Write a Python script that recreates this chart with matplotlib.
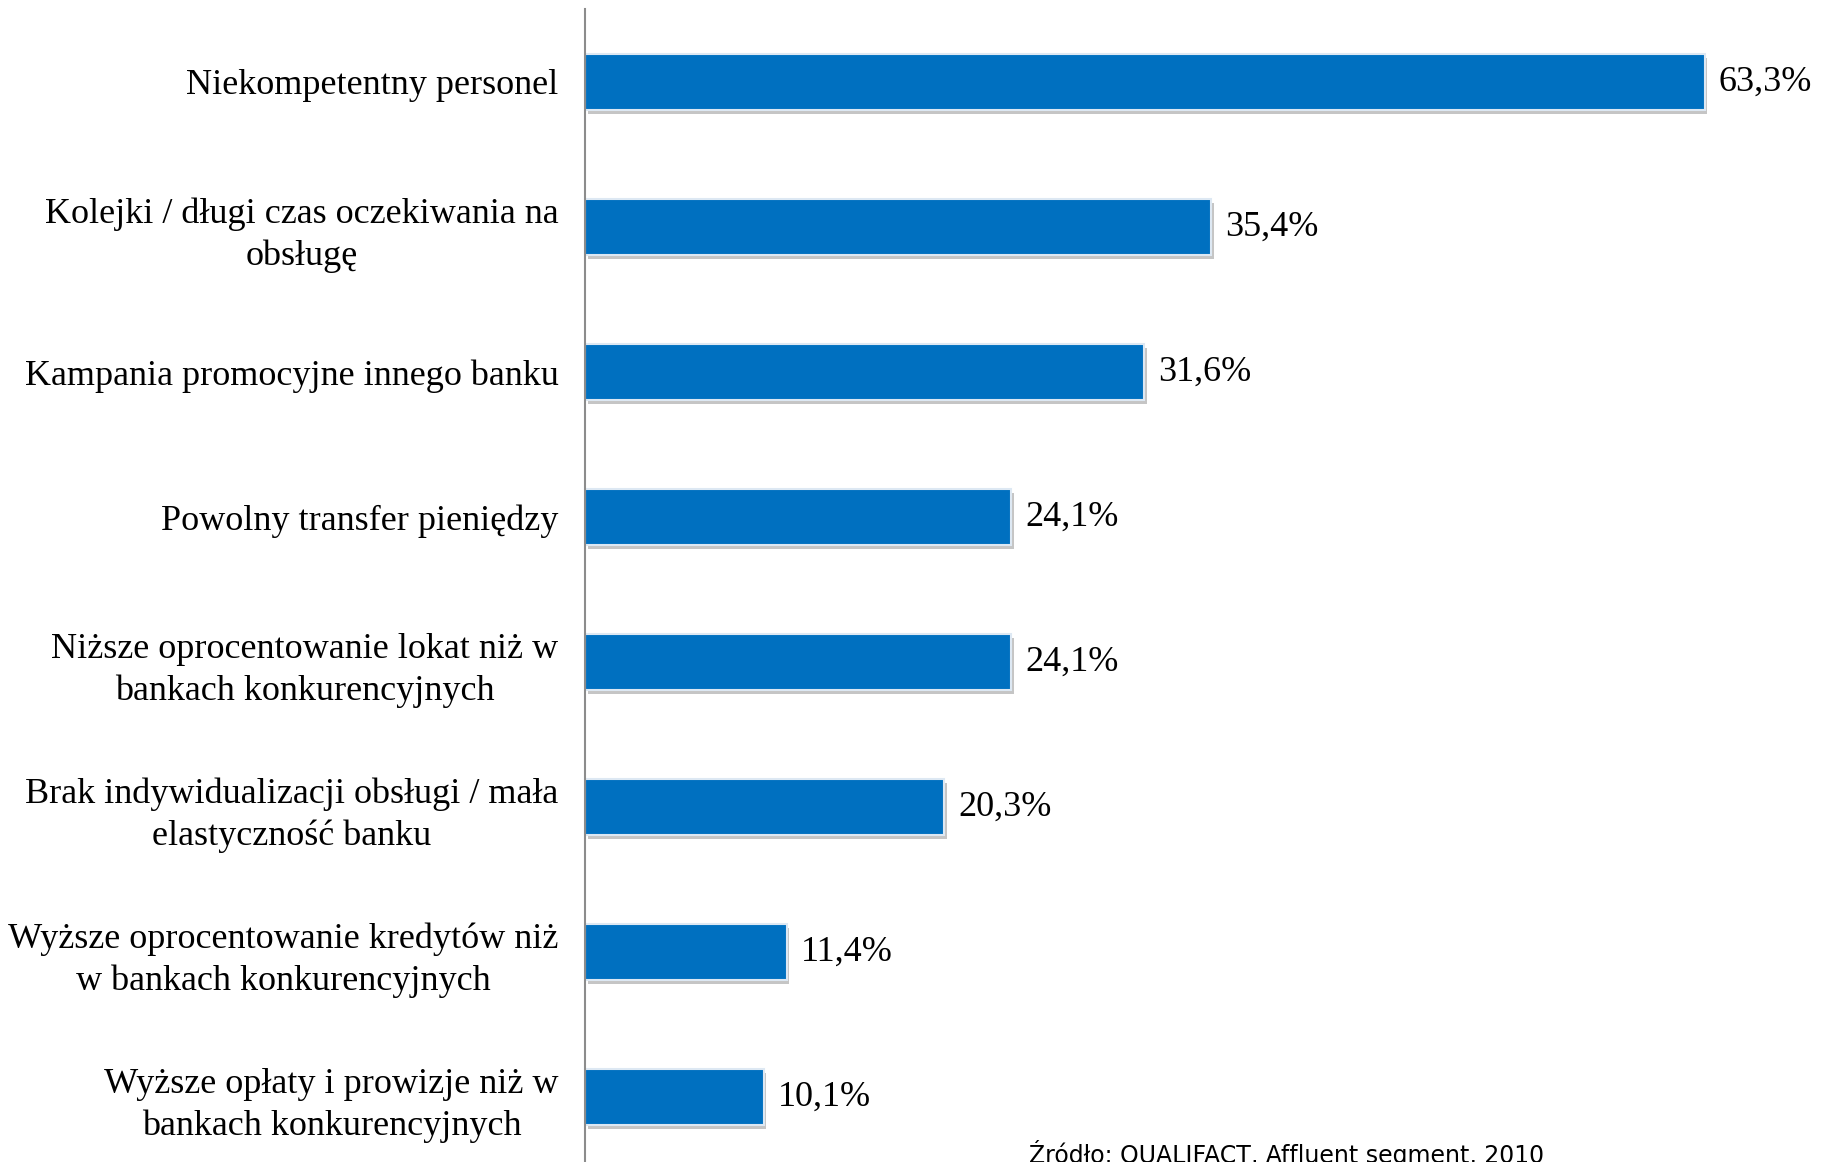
import numpy as np
import matplotlib
matplotlib.use("Agg")
import matplotlib.pyplot as plt
import matplotlib.patheffects as pe

# categories (top to bottom) and share of answers in %
categories = [
    "Niekompetentny personel",
    "Kolejki / długi czas oczekiwania na\nobsługę",
    "Kampania promocyjne innego banku",
    "Powolny transfer pieniędzy",
    "Niższe oprocentowanie lokat niż w\nbankach konkurencyjnych",
    "Brak indywidualizacji obsługi / mała\nelastyczność banku",
    "Wyższe oprocentowanie kredytów niż\nw bankach konkurencyjnych",
    "Wyższe opłaty i prowizje niż w\nbankach konkurencyjnych",
]
values = [63.3, 35.4, 31.6, 24.1, 24.1, 20.3, 11.4, 10.1]
source = "Źródło: QUALIFACT, Affluent segment, 2010"

fig = plt.figure(figsize=(18.29, 11.62), dpi=100)
ax = fig.add_axes([585 / 1829, 0.0, 0.677, (1162 - 9) / 1162])

pos = np.arange(len(values))
bars = ax.barh(pos, values, height=0.39, color="#0070C0",
               edgecolor="#dde8f3", linewidth=1.5)
for b in bars:
    b.set_path_effects([pe.SimplePatchShadow(offset=(2, -3), shadow_rgbFace="#7f7f7f", alpha=0.45),
                        pe.Normal()])

labels = [f"{v:.1f}".replace(".", ",") + "%" for v in values]
ax.bar_label(bars, labels=labels, padding=10, fontsize=26,
             family="Liberation Serif", color="black")

ax.set_xlim(0, 70)
ax.set_ylim(7.448, -0.503)
ax.set_yticks(pos)
ax.set_yticklabels(categories, fontsize=26, family="Liberation Serif",
                   ha="right", multialignment="center", linespacing=1.35)
ax.tick_params(axis="y", length=0, pad=19)
ax.set_xticks([])

for s in ["top", "right", "bottom"]:
    ax.spines[s].set_visible(False)
ax.spines["left"].set_color("#8c8c8c")
ax.spines["left"].set_linewidth(1.5)

fig.text(1029 / 1829, 1 - 1140 / 1162, source, fontsize=17,
         family="DejaVu Sans", va="top", ha="left")

fig.savefig("out.png", dpi=100)
